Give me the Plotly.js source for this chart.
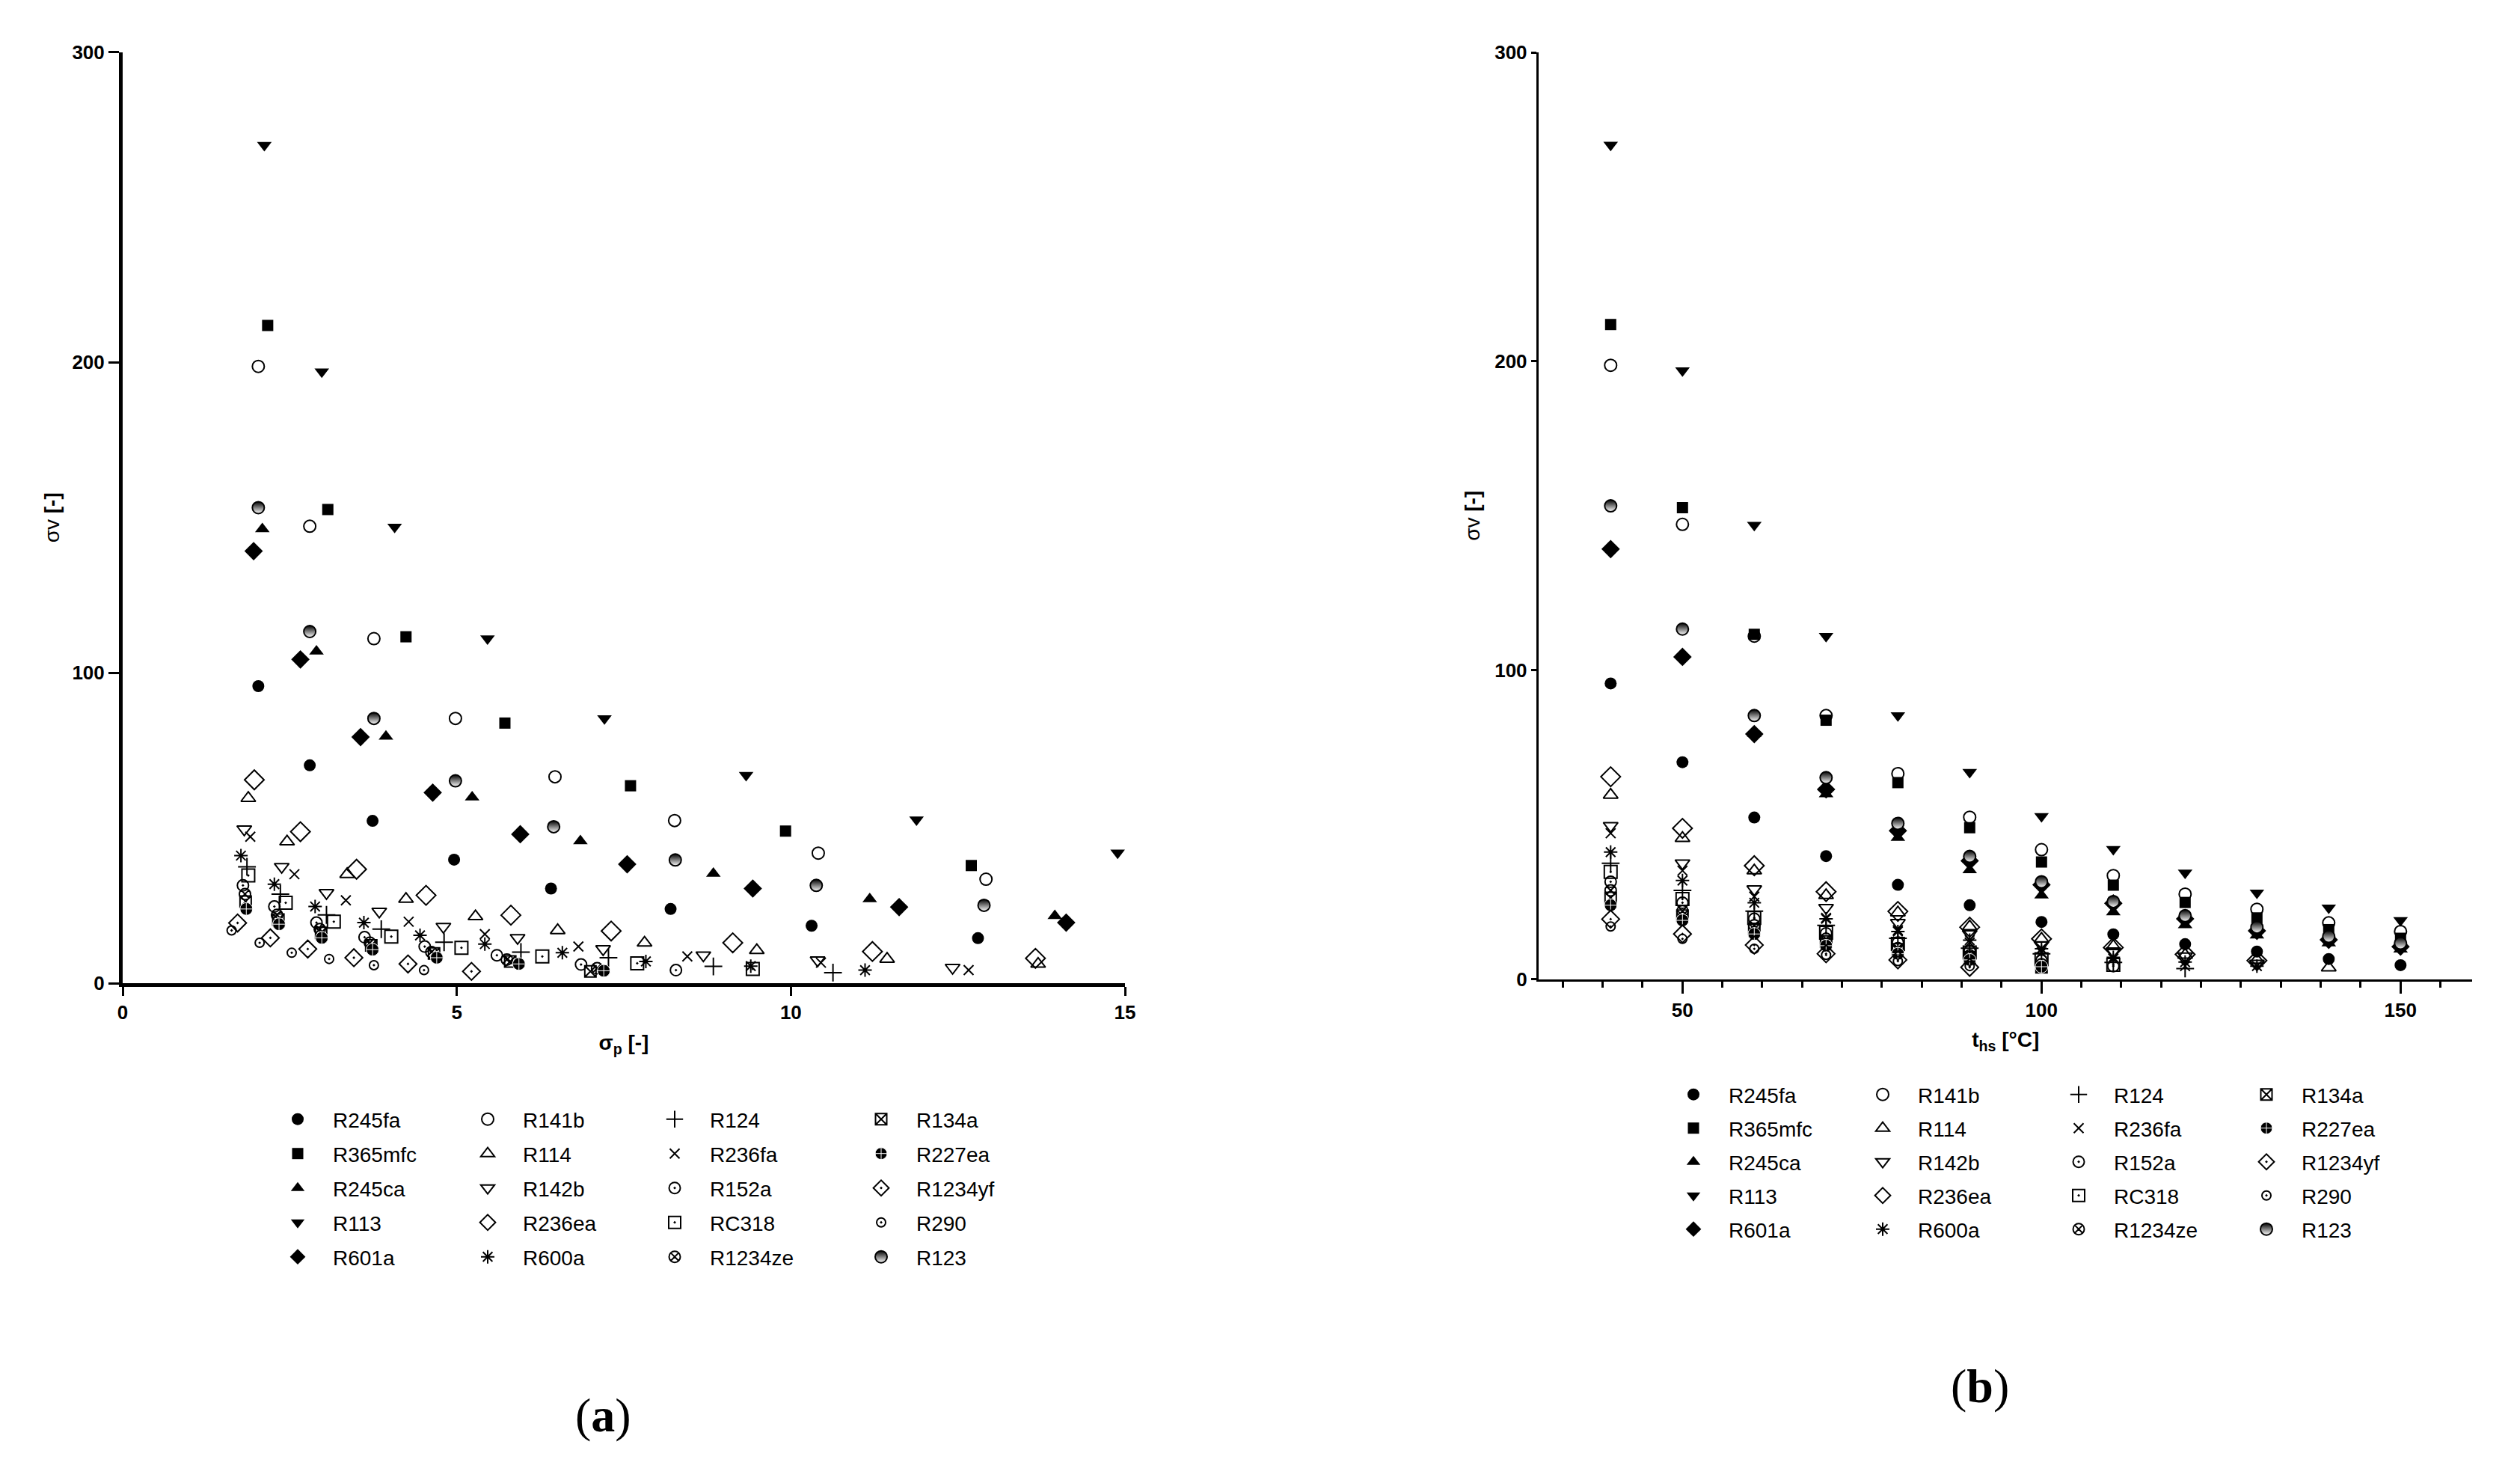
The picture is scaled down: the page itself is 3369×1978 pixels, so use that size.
<!DOCTYPE html>
<html><head><meta charset="utf-8">
<script src="https://cdn.plot.ly/plotly-3.0.1.min.js"></script>
<style>html,body{margin:0;padding:0;background:#fff}#chart{width:3369px;height:1978px}</style>
</head><body><div id="chart"></div>
<script>
// ---------------- DATA ----------------
const tHs = [40, 50, 60, 70, 80, 90, 100, 110, 120, 130, 140, 150];

const svR245fa  = [95.7, 70.2, 52.3, 39.8, 30.5, 23.9, 18.5, 14.5, 11.3, 8.9, 6.5, 4.5];
const spR245fa  = [2.03, 2.80, 3.74, 4.96, 6.41, 8.20, 10.31, 12.80, null, null, null, null];
const svR365mfc = [211.9, 152.6, 111.6, 83.8, 63.6, 49.0, 37.9, 30.4, 24.8, 19.8, 16.0, 13.2];
const spR365mfc = [2.17, 3.07, 4.24, 5.72, 7.60, 9.92, 12.70, null, null, null, null, null];
const svR245ca  = [146.3, 106.9, 79.5, 59.9, 45.8, 35.3, 27.1, 21.7, 17.5, 14.2, 11.6, 9.6];
const spR245ca  = [2.09, 2.90, 3.94, 5.23, 6.85, 8.84, 11.18, 13.95, null, null, null, null];
const svR113    = [270, 197, 147, 111, 85.3, 67, 52.7, 42, 34.4, 27.9, 23.1, 19.0];
const spR113    = [2.12, 2.98, 4.07, 5.46, 7.21, 9.33, 11.88, 14.89, null, null, null, null];
const svR601a   = [139.2, 104.3, 79.3, 61.4, 48.0, 38.3, 30.5, 24.5, 19.5, 15.6, 12.7, 10.5];
const spR601a   = [1.96, 2.66, 3.56, 4.64, 5.95, 7.55, 9.43, 11.62, 14.12, null, null, null];
const svR141b   = [198.7, 147.2, 111.0, 85.3, 66.5, 52.4, 41.9, 33.5, 27.5, 22.6, 18.2, 15.4];
const spR141b   = [2.03, 2.80, 3.76, 4.98, 6.47, 8.26, 10.41, 12.92, null, null, null, null];
const svR114    = [59.6, 45.6, 35.1, 27.1, 21.5, 17.0, 13.0, 10.6, 7.8, 6.2, 3.7, null];
const spR114    = [1.88, 2.46, 3.36, 4.24, 5.28, 6.51, 7.81, 9.49, 11.44, 13.70, null, null];
const svR142b   = [49.6, 37.5, 29.1, 23.1, 18.2, 14.6, 11.0, 9.0, 7.4, 5.0, null, null];
const spR142b   = [1.82, 2.38, 3.05, 3.84, 4.80, 5.91, 7.19, 8.69, 10.40, 12.42, null, null];
const svR236ea  = [65.5, 48.8, 36.7, 28.3, 21.9, 16.8, 13.0, 10.2, 8.0, 6.0, null, null];
const spR236ea  = [1.97, 2.66, 3.50, 4.54, 5.81, 7.31, 9.13, 11.22, 13.66, null, null, null];
const svR600a   = [41.1, 31.9, 24.7, 19.5, 15.4, 12.6, 9.8, 7.0, 5.5, 4.2, null, null];
const spR600a   = [1.77, 2.27, 2.88, 3.61, 4.45, 5.42, 6.58, 7.83, 9.40, 11.11, null, null];
const svR124    = [37.5, 28.7, 22.0, 17.4, 13.2, 10.0, 8.2, 5.4, 3.4, null, null, null];
const spR124    = [1.86, 2.36, 3.05, 3.87, 4.81, 5.96, 7.27, 8.84, 10.63, null, null, null];
const svR236fa  = [47.2, 35.1, 26.7, 19.8, 15.8, 11.8, 8.6, 6.6, 4.2, null, null, null];
const spR236fa  = [1.91, 2.57, 3.34, 4.28, 5.42, 6.82, 8.45, 10.45, 12.66, null, null, null];
const svR152a   = [31.5, 24.7, 19.5, 14.8, 11.8, 9.0, 6.0, 4.2, null, null, null, null];
const spR152a   = [1.80, 2.27, 2.90, 3.62, 4.52, 5.60, 6.86, 8.28, null, null, null, null];
const svRC318   = [34.7, 25.9, 19.8, 15.0, 11.4, 8.6, 6.4, 4.6, null, null, null, null];
const spRC318   = [1.88, 2.44, 3.16, 4.02, 5.07, 6.28, 7.70, 9.43, null, null, null, null];
const svR1234ze = [28.7, 22.0, 17.4, 13.0, 10.0, 7.6, 4.8, null, null, null, null, null];
const spR1234ze = [1.83, 2.31, 2.95, 3.70, 4.62, 5.75, 7.10, null, null, null, null, null];
const svR134a   = [26.3, 20.5, 16.2, 12.2, 9.6, 7.0, 3.8, null, null, null, null, null];
const spR134a   = [1.84, 2.33, 2.97, 3.72, 4.66, 5.80, 7.00, null, null, null, null, null];
const svR227ea  = [23.9, 19.0, 14.6, 10.8, 8.2, 6.2, 4.0, null, null, null, null, null];
const spR227ea  = [1.85, 2.34, 2.98, 3.74, 4.70, 5.93, 7.20, null, null, null, null, null];
const svR1234yf = [19.4, 14.6, 11.0, 8.2, 6.2, 3.8, null, null, null, null, null, null];
const spR1234yf = [1.72, 2.21, 2.77, 3.46, 4.27, 5.22, null, null, null, null, null, null];
const svR290    = [17.0, 13.0, 9.8, 7.8, 5.8, 4.2, null, null, null, null, null, null];
const spR290    = [1.63, 2.05, 2.53, 3.09, 3.76, 4.51, null, null, null, null, null, null];
const svR123    = [153.2, 113.3, 85.3, 65.2, 50.4, 39.7, 31.5, 25.1, 20.5, 16.8, 13.8, 11.6];
const spR123    = [2.03, 2.80, 3.76, 4.98, 6.45, 8.27, 10.38, 12.89, null, null, null, null];
// panel (b): R245ca is not drawn at 40 and 50 °C in the figure
const svR245caB = [null, null, 79.5, 59.9, 45.8, 35.3, 27.1, 21.7, 17.5, 14.2, 11.6, 9.6];

const xTicksA = [0, 5, 10, 15];
const yTicks = [0, 100, 200, 300];
const xTicksB = [50, 100, 150];

// legend columns (column-major as in the figure)
const legendColumns = [
  ['R245fa', 'R365mfc', 'R245ca', 'R113', 'R601a'],
  ['R141b', 'R114', 'R142b', 'R236ea', 'R600a'],
  ['R124', 'R236fa', 'R152a', 'RC318', 'R1234ze'],
  ['R134a', 'R227ea', 'R1234yf', 'R290', 'R123']
];

const seriesData = {
  R245fa: [svR245fa, spR245fa], R365mfc: [svR365mfc, spR365mfc], R245ca: [svR245ca, spR245ca],
  R113: [svR113, spR113], R601a: [svR601a, spR601a], R141b: [svR141b, spR141b],
  R114: [svR114, spR114], R142b: [svR142b, spR142b], R236ea: [svR236ea, spR236ea],
  R600a: [svR600a, spR600a], R124: [svR124, spR124], R236fa: [svR236fa, spR236fa],
  R152a: [svR152a, spR152a], RC318: [svRC318, spRC318], R1234ze: [svR1234ze, spR1234ze],
  R134a: [svR134a, spR134a], R227ea: [svR227ea, spR227ea], R1234yf: [svR1234yf, spR1234yf],
  R290: [svR290, spR290], R123: [svR123, spR123]
};
const panelBOverride = {R245ca: svR245caB};

// ---------------- STYLE ----------------
const W = 3369, H = 1978;
const FONT = 'Liberation Sans, Arial, sans-serif';
const K = '#000';
const markerStyle = {
  R245fa:  {symbol: 'circle', size: 16},
  R365mfc: {symbol: 'square', size: 15},
  R245ca:  {symbol: 'triangle-up', size: 17},
  R113:    {symbol: 'triangle-down', size: 17},
  R601a:   {symbol: 'diamond', size: 19},
  R141b:   {symbol: 'circle-open', size: 16, line: 2},
  R114:    {symbol: 'triangle-up-open', size: 17, line: 2},
  R142b:   {symbol: 'triangle-down-open', size: 17, line: 2},
  R236ea:  {symbol: 'diamond-open', size: 20, line: 2},
  R600a:   {symbol: 'asterisk-open', size: 15, line: 2},
  R124:    {symbol: 'cross-thin-open', size: 17, line: 2},
  R236fa:  {symbol: 'x-thin-open', size: 13, line: 2},
  R152a:   {symbol: 'circle-open-dot', size: 15, line: 2},
  RC318:   {symbol: 'square-open-dot', size: 17, line: 2},
  R1234ze: {symbol: 'circle-x-open', size: 15, line: 2},
  R134a:   {symbol: 'square-x-open', size: 15, line: 2},
  R227ea:  {symbol: 'circle-cross', size: 17, line: 1, lineColor: '#fff'},
  R1234yf: {symbol: 'diamond-open-dot', size: 18, line: 2},
  R290:    {symbol: 'circle-open-dot', size: 12, line: 2},
  R123:    {symbol: 'circle', size: 16, line: 2, gradient: true}
};

function makeMarker(name) {
  const s = markerStyle[name];
  const m = {symbol: s.symbol, size: s.size, color: K,
             line: {color: s.lineColor || K, width: s.line || 0}};
  if (s.gradient) m.gradient = {type: 'vertical', color: '#fff'};
  return m;
}

const traces = [];
legendColumns.forEach((col, ci) => {
  col.forEach(name => {
    const [sv, sp] = seriesData[name];
    traces.push({
      type: 'scatter', mode: 'markers', name: name, x: sp, y: sv,
      xaxis: 'x', yaxis: 'y', marker: makeMarker(name), cliponaxis: false,
      legend: ci === 0 ? 'legend' : 'legend' + (ci + 1), legendgroup: 'a' + name,
      hoverinfo: 'name+x+y'
    });
  });
});
legendColumns.forEach((col, ci) => {
  col.forEach(name => {
    const sv = panelBOverride[name] || seriesData[name][0];
    traces.push({
      type: 'scatter', mode: 'markers', name: name, x: tHs, y: sv,
      xaxis: 'x2', yaxis: 'y2', marker: makeMarker(name), cliponaxis: false,
      legend: 'legend' + (ci + 5), legendgroup: 'b' + name,
      hoverinfo: 'name+x+y'
    });
  });
});

function legendAt(symX, topY, gap) {
  return {
    x: (symX - 47) / W, y: 1 - topY / H, xanchor: 'left', yanchor: 'top',
    orientation: 'v', bgcolor: 'rgba(0,0,0,0)', borderwidth: 0,
    font: {family: FONT, size: 28, color: K}, itemwidth: 84,
    traceorder: 'grouped', tracegroupgap: gap, itemclick: false, itemdoubleclick: false
  };
}

const tickFont = {family: FONT, size: 26, color: K, weight: 700};
const axisCommon = {
  showgrid: false, zeroline: false, showline: true, linecolor: K, linewidth: 5,
  ticks: 'outside', tickcolor: K, tickwidth: 3, tickfont: tickFont, fixedrange: true
};

const layout = {
  width: W, height: H, margin: {l: 0, r: 0, t: 0, b: 0},
  paper_bgcolor: '#fff', plot_bgcolor: '#fff', showlegend: true,
  xaxis: Object.assign({}, axisCommon, {
    domain: [164 / W, 1504 / W], range: [0, 15], tickmode: 'array', tickvals: xTicksA,
    ticklen: 12, anchor: 'y',
    title: {text: 'σ<sub>p</sub> [-]', font: {family: FONT, size: 28, color: K, weight: 700}, standoff: 18}
  }),
  yaxis: Object.assign({}, axisCommon, {
    domain: [1 - 1314 / H, 1 - 69.5 / H], range: [0, 300], tickmode: 'array', tickvals: yTicks,
    ticklen: 14, anchor: 'x',
    title: {text: 'σv <b>[-]</b>', font: {family: FONT, size: 28, color: K}, standoff: 10}
  }),
  xaxis2: Object.assign({}, axisCommon, {
    domain: [2057.3 / W, 3305.3 / W], range: [30, 160], tickmode: 'array', tickvals: xTicksB,
    ticklen: 16, linewidth: 3.5, anchor: 'y2',
    minor: {tick0: 50, dtick: 50 / 9, ticks: 'outside', ticklen: 8, tickwidth: 3, tickcolor: K},
    title: {text: 't<sub>hs</sub> [°C]', font: {family: FONT, size: 28, color: K, weight: 700}, standoff: 16}
  }),
  yaxis2: Object.assign({}, axisCommon, {
    domain: [1 - 1308.5 / H, 1 - 70 / H], range: [0, 300], tickmode: 'array', tickvals: yTicks,
    ticklen: 7, linewidth: 3.5, anchor: 'x2',
    title: {text: 'σv <b>[-]</b>', font: {family: FONT, size: 28, color: K}, standoff: 12}
  }),
  legend: legendAt(398, 1471, 6.6),
  legend2: legendAt(652, 1471, 6.6),
  legend3: legendAt(902, 1471, 6.6),
  legend4: legendAt(1178, 1471, 6.6),
  legend5: legendAt(2264, 1438, 5.6),
  legend6: legendAt(2517, 1438, 5.6),
  legend7: legendAt(2779, 1438, 5.6),
  legend8: legendAt(3030, 1438, 5.6),
  annotations: [
    {text: '(<b>a</b>)', xref: 'paper', yref: 'paper', x: 806 / W, y: 1 - 1891 / H,
     xanchor: 'center', yanchor: 'middle', showarrow: false,
     font: {family: 'Liberation Serif, Times New Roman, serif', size: 64, color: K}},
    {text: '(<b>b</b>)', xref: 'paper', yref: 'paper', x: 2647 / W, y: 1 - 1852 / H,
     xanchor: 'center', yanchor: 'middle', showarrow: false,
     font: {family: 'Liberation Serif, Times New Roman, serif', size: 64, color: K}}
  ]
};

Plotly.newPlot('chart', traces, layout, {staticPlot: true, displayModeBar: false});
</script></body></html>
